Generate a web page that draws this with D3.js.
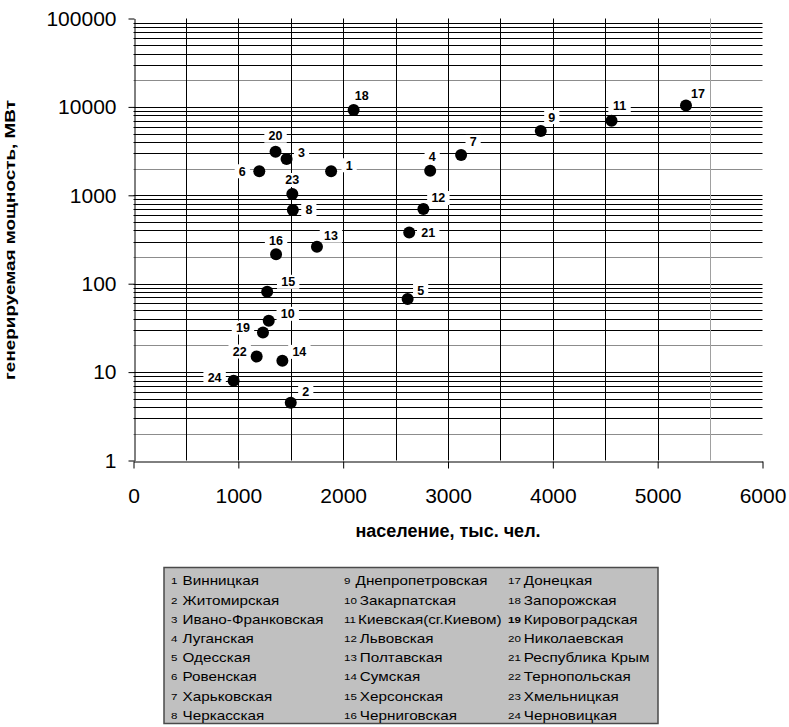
<!DOCTYPE html>
<html>
<head>
<meta charset="utf-8">
<script src="https://cdn.jsdelivr.net/npm/d3@7"></script>
<style>
  html, body { margin: 0; padding: 0; background: #fff; }
  svg { display: block; font-family: "Liberation Sans", Arial, sans-serif; }
</style>
</head>
<body>
<svg id="chart" width="789" height="727"></svg>
<script>
// Регионы Украины: население (тыс. чел.) и генерируемая мощность (МВт)
const regionIds = [1, 2, 3, 4, 5, 6, 7, 8, 9, 10, 11, 12, 13, 14, 15, 16, 17, 18, 19, 20, 21, 22, 23, 24];
const regionNames = [
  "Винницкая", "Житомирская", "Ивано-Франковская", "Луганская", "Одесская", "Ровенская",
  "Харьковская", "Черкасская", "Днепропетровская", "Закарпатская", "Киевская(сг.Киевом)",
  "Львовская", "Полтавская", "Сумская", "Херсонская", "Черниговская", "Донецкая",
  "Запорожская", "Кировоградская", "Николаевская", "Республика Крым", "Тернопольская",
  "Хмельницкая", "Черновицкая"
];
const population = [1885, 1500, 1460, 2830, 2615, 1200, 3125, 1520, 3885, 1290, 4560, 2765,
                    1750, 1420, 1275, 1360, 5270, 2100, 1235, 1355, 2630, 1175, 1515, 955];
const power = [1870, 4.5, 2570, 1900, 67, 1870, 2860, 680, 5330, 38, 6980, 700,
               262, 13.4, 81, 215, 10400, 9200, 28, 3110, 380, 15, 1035, 8];

const xTicks = [0, 1000, 2000, 3000, 4000, 5000, 6000];
const yTicks = [1, 10, 100, 1000, 10000, 100000];

// Placement of each point's number label relative to its marker (dx, dy)
const labelPlacement = [
  [18, -6], [15, -11], [15, -7], [2, -14], [13, -9], [-17, 0], [12, -13], [16, -1],
  [11, -14], [19, -7], [8, -15], [15, -11], [14, -11], [17, -9], [21, -10], [0, -14],
  [12, -12], [8, -15], [-20, -5], [0, -16], [19, 0], [-17, -5], [0, -14], [-19, -3]
];

const svg = d3.select("#chart");

const x = d3.scaleLinear().domain([0, 6000]).range([133.5, 762.5]);
const y = d3.scaleLog().domain([1, 100000]).range([460.5, 18.5]);

const [x0, x1] = x.range();
const [yb, yt] = y.range();

// Horizontal grid: every 1..9 step within each decade
const hLines = [];
for (let d = 1; d < 100000; d *= 10) {
  for (let k = 1; k <= 9; k++) {
    const v = k * d;
    if (v > 1) hLines.push(v);
  }
}
svg.append("g").selectAll("line").data(hLines).join("line")
  .attr("x1", x0).attr("x2", x1)
  .attr("y1", d => Math.round(y(d)) + 0.5).attr("y2", d => Math.round(y(d)) + 0.5)
  .attr("stroke", d => (String(d)[0] === "2" ? "#8c8c8c" : "#000"))
  .attr("stroke-width", 1);

// Vertical grid every 500
const vLines = d3.range(500, 6000, 500);
svg.append("g").selectAll("line").data(vLines).join("line")
  .attr("x1", d => Math.round(x(d)) + 0.5).attr("x2", d => Math.round(x(d)) + 0.5)
  .attr("y1", yt).attr("y2", yb)
  .attr("stroke", d => (d === 5500 ? "#a0a0a0" : "#000"))
  .attr("stroke-width", 1);

// Axes
const xAxis = d3.axisBottom(x).tickValues(xTicks).tickSize(7).tickSizeOuter(0).tickPadding(20)
  .tickFormat(d3.format("d"));
const gx = svg.append("g").attr("transform", `translate(0,${Math.round(yb) + 0.5})`).call(xAxis);
gx.select(".domain").attr("stroke", "#000");
gx.selectAll(".tick line").attr("stroke", "#000");
gx.selectAll(".tick text")
  .attr("font-size", 21).attr("fill", "#000")
  .attr("font-family", "'Liberation Sans', Arial, sans-serif");

const yAxis = d3.axisLeft(y).tickValues(yTicks).tickSize(6).tickSizeOuter(0).tickPadding(12)
  .tickFormat(d3.format("d"));
const gy = svg.append("g").attr("transform", `translate(${Math.round(x0) + 0.5},0)`).call(yAxis);
gy.select(".domain").attr("stroke", "#000");
gy.selectAll(".tick line").attr("stroke", "#000");
gy.selectAll(".tick text")
  .attr("font-size", 21).attr("fill", "#000")
  .attr("font-family", "'Liberation Sans', Arial, sans-serif");

// Axis titles
svg.append("text")
  .attr("x", 448).attr("y", 537)
  .attr("text-anchor", "middle")
  .attr("font-size", 18).attr("font-weight", "bold")
  .text("население, тыс. чел.");

svg.append("text")
  .attr("transform", "translate(15,240) rotate(-90)")
  .attr("text-anchor", "middle")
  .attr("font-size", 14).attr("font-weight", "bold")
  .attr("textLength", 280).attr("lengthAdjust", "spacingAndGlyphs")
  .text("генерируемая мощность, МВт");

// Points and their number labels
const points = regionIds.map((id, i) => ({
  id, pop: population[i], pw: power[i], dx: labelPlacement[i][0], dy: labelPlacement[i][1]
}));

const lbl = svg.append("g").selectAll("g").data(points).join("g")
  .attr("transform", d => `translate(${x(d.pop) + d.dx},${y(d.pw) + d.dy})`);
lbl.append("rect")
  .attr("x", d => -(String(d.id).length * 3.6 + 4)).attr("y", -7)
  .attr("width", d => String(d.id).length * 7.2 + 8).attr("height", 14)
  .attr("fill", "#fff");
lbl.append("text")
  .attr("text-anchor", "middle").attr("dy", "0.36em")
  .attr("font-size", 12.5).attr("font-weight", "bold")
  .text(d => d.id);

svg.append("g").selectAll("circle").data(points).join("circle")
  .attr("cx", d => x(d.pop)).attr("cy", d => y(d.pw))
  .attr("r", 6).attr("fill", "#000");

// Legend
const legend = svg.append("g");
legend.append("rect")
  .attr("x", 164).attr("y", 567.5).attr("width", 494).attr("height", 156)
  .attr("fill", "#c0c0c0").attr("stroke", "#4a4a4a").attr("stroke-width", 1.5);

const colX = [171, 344, 508];
const rowY0 = 581, rowStep = 19.2;
const items = legend.selectAll("g.item").data(points).join("g")
  .attr("class", "item")
  .attr("transform", (d, i) => `translate(${colX[Math.floor(i / 8)]},${rowY0 + (i % 8) * rowStep}) scale(1.22,1)`);
items.append("text")
  .attr("dy", "0.35em").attr("font-size", 9.5)
  .attr("font-weight", d => (d.id === 19 ? "bold" : "normal"))
  .text(d => d.id);
items.append("text")
  .attr("x", d => (d.id < 10 ? 9.5 : (d.id === 11 ? 11.5 : 13))).attr("dy", "0.35em").attr("font-size", 12.5)
  .text((d, i) => regionNames[i]);
</script>
</body>
</html>
